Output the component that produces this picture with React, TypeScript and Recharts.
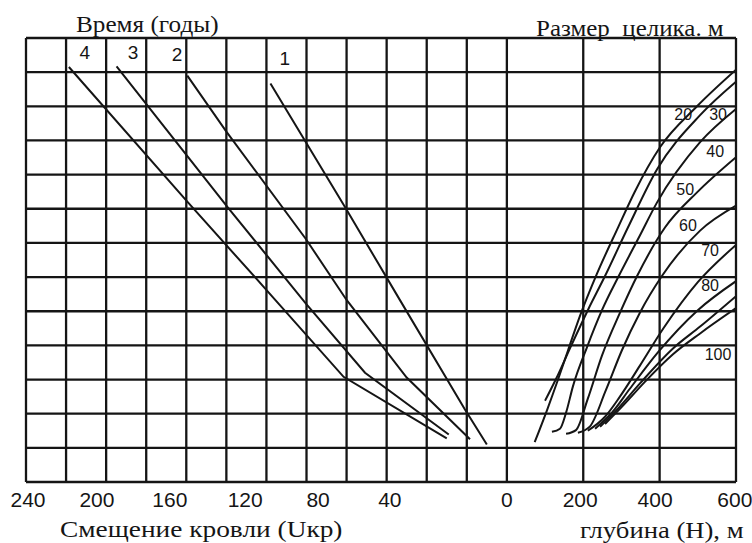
import { CartesianGrid, Line, LineChart, ReferenceDot, XAxis, YAxis } from 'recharts'

// Номограмма: слева — смещение кровли во времени, справа — глубина и размер целика.
// Ось X — в клетках сетки: 12 клеток по 20 (Uкр), затем 6 клеток по 100 м (H).
const LEFT_CELLS = 12
const RIGHT_CELLS = 6
const RIGHT_CELL = 0.953 // правые клетки на скане чуть уже левых
const ROWS = 13
const U_MAX = 240
const U_STEP = 20
const H_STEP = 100

const xFromU = (u: number) => (U_MAX - u) / U_STEP
const xFromH = (h: number) => LEFT_CELLS + (h / H_STEP) * RIGHT_CELL
const X_MAX = xFromH(RIGHT_CELLS * H_STEP)

const TICK_LABELS = ['240', '200', '160', '120', '80', '40', '0', '200', '400', '600']
// подписи на скане сдвинуты относительно линий сетки
const TICK_AT = [0.05, 1.77, 3.59, 5.47, 7.29, 9.08, 12, 13.83, 15.7, 17.69]

// Время (годы): Uкр и номер ряда сетки снизу
const year1U = [118, 80.5, 53.5, 21, 10]
const year1R = [11.67, 8.02, 5.34, 2.13, 1.1]
const year2U = [159.5, 140, 100.5, 80, 50, 18.4]
const year2R = [11.9, 10.26, 7.13, 5.33, 3.06, 1.25]
const year3U = [194.8, 139, 100.5, 70.8, 29]
const year3R = [12.17, 8.02, 5.24, 3.2, 1.39]
const year4U = [218.6, 159.5, 115.4, 81.5, 30]
const year4R = [12.15, 8.21, 5.32, 3.08, 1.28]

// Размер целика, м: глубина H и ряд
const size20H = [73, 105, 134, 160, 191, 236, 291, 335, 401, 498, 600]
const size20R = [1.17, 2.1, 3.0, 3.85, 4.85, 6.1, 7.45, 8.5, 9.8, 11.0, 12.07]
const size30H = [100, 128, 170, 212, 257, 317, 393, 506, 600]
const size30R = [2.38, 3.0, 4.03, 5.03, 6.03, 7.45, 9.15, 10.74, 11.72]
const size40H = [118, 139, 155, 173, 210, 249, 293, 348, 393, 506, 600]
const size40R = [1.47, 1.56, 2.03, 2.8, 3.95, 5.03, 6.03, 7.21, 8.18, 9.95, 10.92]
const size50H = [155, 181, 212, 249, 296, 341, 414, 498, 600]
const size50R = [1.41, 1.52, 2.44, 3.7, 4.95, 6.03, 7.45, 8.48, 9.51]
const size60H = [186, 217, 259, 301, 348, 406, 506, 600]
const size60R = [1.44, 1.62, 2.68, 3.85, 4.95, 6.03, 7.36, 8.09]
const size70H = [212, 257, 296, 348, 410, 500, 600]
const size70R = [1.5, 1.91, 2.5, 3.4, 4.5, 5.85, 6.94]
const size80H = [231, 275, 322, 396, 500, 600]
const size80R = [1.56, 2.03, 2.73, 3.8, 5.03, 5.88]
const size90H = [244, 291, 348, 435, 506, 600]
const size90R = [1.62, 2.15, 2.88, 3.91, 4.55, 5.44]
const size100H = [257, 301, 362, 435, 506, 600]
const size100R = [1.7, 2.2, 2.94, 3.74, 4.35, 5.09]

const YEAR_NAMES = ['1', '2', '3', '4']
const YEAR_LABEL_X = [6.46, 3.77, 2.67, 1.47]
const YEAR_LABEL_Y = [12.42, 12.53, 12.59, 12.59]

const SIZE_NAMES = ['20', '30', '40', '50', '60', '70', '80', '100']
const SIZE_LABEL_X = [16.4, 17.27, 17.2, 16.45, 16.52, 17.07, 17.07, 17.27]
const SIZE_LABEL_Y = [10.78, 10.78, 9.69, 8.57, 7.53, 6.79, 5.76, 3.75]

const toPoints = (xs: number[], ys: number[], f: (v: number) => number) =>
  xs.map((v, i) => ({ x: f(v), y: ys[i] }))

const yearSeries = [
  toPoints(year1U, year1R, xFromU),
  toPoints(year2U, year2R, xFromU),
  toPoints(year3U, year3R, xFromU),
  toPoints(year4U, year4R, xFromU),
]
const sizeSeries = [
  toPoints(size20H, size20R, xFromH),
  toPoints(size30H, size30R, xFromH),
  toPoints(size40H, size40R, xFromH),
  toPoints(size50H, size50R, xFromH),
  toPoints(size60H, size60R, xFromH),
  toPoints(size70H, size70R, xFromH),
  toPoints(size80H, size80R, xFromH),
  toPoints(size90H, size90R, xFromH),
  toPoints(size100H, size100R, xFromH),
]

const gridX = [
  ...Array.from({ length: LEFT_CELLS + 1 }, (_, i) => i),
  ...Array.from({ length: RIGHT_CELLS }, (_, i) => xFromH((i + 1) * H_STEP)),
]
const gridY = Array.from({ length: ROWS + 1 }, (_, i) => i)

const INK = '#151515'
const SERIF = '"Liberation Serif", "DejaVu Serif", serif'
const SANS = '"Liberation Sans", Arial, sans-serif'

const title = (left: number, top: number, size: number, stretch = 1): React.CSSProperties => ({
  position: 'absolute',
  left,
  top,
  fontFamily: SERIF,
  fontSize: size,
  color: INK,
  whiteSpace: 'pre',
  lineHeight: 1,
  transform: `scaleX(${stretch})`,
  transformOrigin: 'left top',
})

// ось подписей ложится ниже сетки — подтягиваем текст к краю рамки
const TICK_LIFT = 28

const AxisTick = (p: any) => {
  const i = TICK_AT.indexOf(p.payload?.value)
  return (
    <text x={p.x} y={p.y - TICK_LIFT} dy="0.71em" textAnchor="middle" fill={INK} fontSize={21} fontFamily={SANS}>
      {i >= 0 ? TICK_LABELS[i] : ''}
    </text>
  )
}

export default function App() {
  return (
    <div style={{ position: 'absolute', left: 0, top: 0, width: 752, height: 543, background: '#fff' }}>
      <LineChart width={752} height={543} data={[]} margin={{ top: 38, right: 16, bottom: 31, left: 26 }}>
        <CartesianGrid stroke={INK} strokeWidth={2.3} />
        <XAxis dataKey="x" type="number" domain={[0, X_MAX]} ticks={gridX} allowDataOverflow hide />
        <XAxis
          xAxisId="lab"
          dataKey="x"
          type="number"
          domain={[0, X_MAX]}
          allowDataOverflow
          ticks={TICK_AT}
          interval={0}
          height={30}
          axisLine={false}
          tickLine={false}
          tickSize={0}
          tickMargin={8}
          tick={AxisTick}
        />
        <YAxis type="number" domain={[0, ROWS]} ticks={gridY} allowDataOverflow hide />
        {yearSeries.map((pts, i) => (
          <Line
            key={'y' + i}
            data={pts}
            dataKey="y"
            type="linear"
            stroke={INK}
            strokeWidth={2}
            dot={false}
            isAnimationActive={false}
          />
        ))}
        {sizeSeries.map((pts, i) => (
          <Line
            key={'s' + i}
            data={pts}
            dataKey="y"
            type="monotone"
            stroke={INK}
            strokeWidth={2}
            dot={false}
            isAnimationActive={false}
          />
        ))}
        {YEAR_NAMES.map((n, i) => (
          <ReferenceDot
            key={'yl' + n}
            x={YEAR_LABEL_X[i]}
            y={YEAR_LABEL_Y[i]}
            r={0}
            fill="none"
            stroke="none"
            label={{ value: n, position: 'center', fill: INK, fontSize: 19, fontFamily: SANS }}
          />
        ))}
        {SIZE_NAMES.map((n, i) => (
          <ReferenceDot
            key={'sl' + n}
            x={SIZE_LABEL_X[i]}
            y={SIZE_LABEL_Y[i]}
            r={0}
            fill="none"
            stroke="none"
            label={{ value: n, position: 'center', fill: INK, fontSize: 16, fontFamily: SANS }}
          />
        ))}
      </LineChart>
      <div style={title(76, 12, 24, 1.05)}>Время (годы)</div>
      <div style={title(536, 16, 24, 1.04)}>{'Размер  целика. м'}</div>
      <div style={title(60, 517, 24, 1.14)}>Смещение кровли (Uкр)</div>
      <div style={title(580, 518, 24, 1.11)}>глубина (Н), м</div>
    </div>
  )
}
